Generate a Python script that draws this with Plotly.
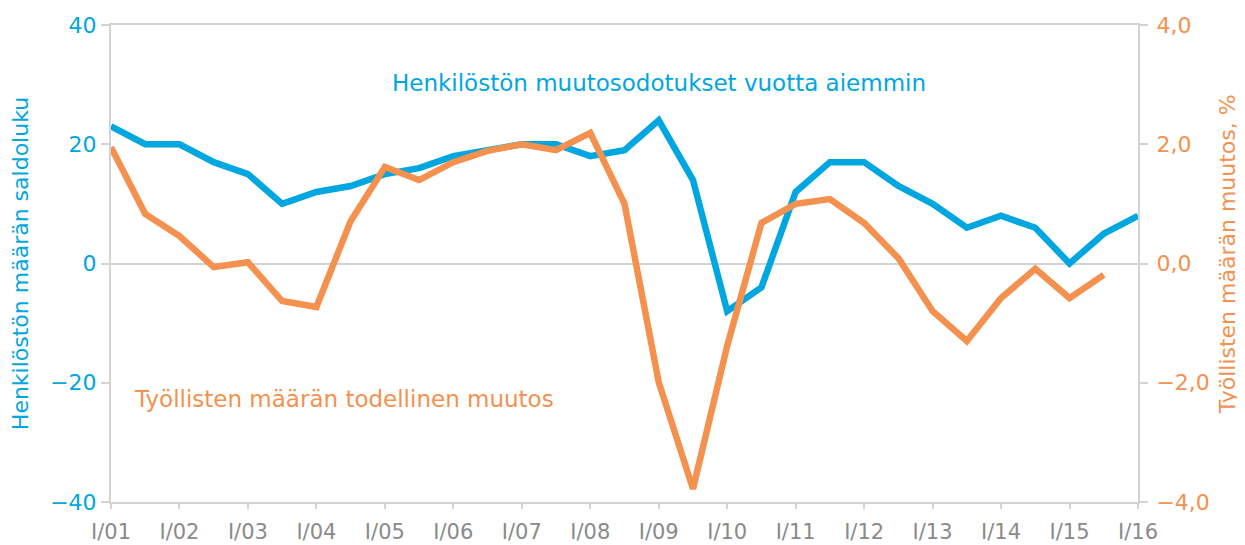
import plotly.graph_objects as go

# Half-year observation points, 2001 .. 2016
periods = [2001 + 0.5 * i for i in range(31)]

expectations = [23, 20, 20, 17, 15, 10, 12, 13, 15, 16, 18, 19, 20, 20, 18, 19,
                24, 14, -8, -4, 12, 17, 17, 13, 10, 6, 8, 6, 0, 5, 8]

actual_change = [1.95, 0.83, 0.46, -0.06, 0.02, -0.63, -0.73, 0.71, 1.62, 1.40,
                 1.70, 1.89, 2.00, 1.90, 2.19, 1.00, -1.99, -3.78, -1.38, 0.68,
                 1.00, 1.08, 0.68, 0.09, -0.80, -1.30, -0.58, -0.09, -0.58, -0.19]

year_ticks = list(range(2001, 2017))
year_labels = ["I/%02d" % (y % 100) for y in year_ticks]

left_ticks = [-40, -20, 0, 20, 40]
left_labels = ["\u221240", "\u221220", "0", "20", "40"]
right_ticks = [-4, -2, 0, 2, 4]
right_labels = ["\u22124,0", "\u22122,0", "0,0", "2,0", "4,0"]

BLUE = "#00A6DF"
ORANGE = "#F4914F"
GRID = "#D3D3D3"
FONT = "DejaVu Sans"

fig = go.Figure()
fig.add_trace(go.Scatter(x=periods[:len(expectations)], y=expectations, mode="lines",
                         line=dict(color=BLUE, width=6.5), yaxis="y", showlegend=False))
fig.add_trace(go.Scatter(x=periods[:len(actual_change)], y=actual_change, mode="lines",
                         line=dict(color=ORANGE, width=6.5), yaxis="y2", showlegend=False))

fig.update_layout(
    width=1245, height=545,
    margin=dict(l=103, r=115, t=17, b=51, autoexpand=False),
    paper_bgcolor="white", plot_bgcolor="white",
    font=dict(family=FONT),
    xaxis=dict(range=[2001, 2016], tickvals=year_ticks, ticktext=year_labels,
               automargin=False,
               showgrid=False, zeroline=False, showline=True, mirror=True,
               linecolor=GRID, linewidth=2, ticks="outside", ticklen=5,
               tickcolor=GRID, tickwidth=2, ticklabelstandoff=5,
               tickfont=dict(size=21, color="#8A8A8A", family=FONT)),
    yaxis=dict(range=[-40, 40], tickvals=left_ticks, ticktext=left_labels,
               automargin=False,
               showgrid=False, zeroline=True, zerolinecolor=GRID, zerolinewidth=2,
               showline=True, linecolor=GRID, linewidth=2,
               ticks="outside", ticklen=8, tickcolor=GRID, tickwidth=2,
               tickfont=dict(size=22, color=BLUE, family=FONT),
               title=dict(text="Henkilöstön määrän saldoluku",
                          font=dict(size=22, color=BLUE, family=FONT))),
    yaxis2=dict(range=[-4, 4], tickvals=right_ticks, ticktext=right_labels,
                automargin=False,
                overlaying="y", side="right", showgrid=False, zeroline=False,
                showline=True, linecolor=GRID, linewidth=2,
                ticks="outside", ticklen=8, tickcolor=GRID, tickwidth=2,
                ticklabelstandoff=4,
                tickfont=dict(size=22, color=ORANGE, family=FONT)),
    annotations=[
        dict(text="Henkilöstön muutosodotukset vuotta aiemmin", xref="x", yref="y",
             x=2009, y=30.3, showarrow=False, xanchor="center", yanchor="middle",
             font=dict(size=23, color=BLUE, family=FONT)),
        dict(text="Työllisten määrän todellinen muutos", xref="x", yref="y",
             x=2001.3, y=-22.7, showarrow=False, xanchor="left", yanchor="middle",
             font=dict(size=23, color=ORANGE, family=FONT)),
        dict(text="Työllisten määrän muutos, %", xref="paper", yref="paper",
             x=1.088, y=0.52, textangle=-90, showarrow=False,
             xanchor="center", yanchor="middle",
             font=dict(size=22, color=ORANGE, family=FONT)),
    ],
)

fig.write_html("out.html")
